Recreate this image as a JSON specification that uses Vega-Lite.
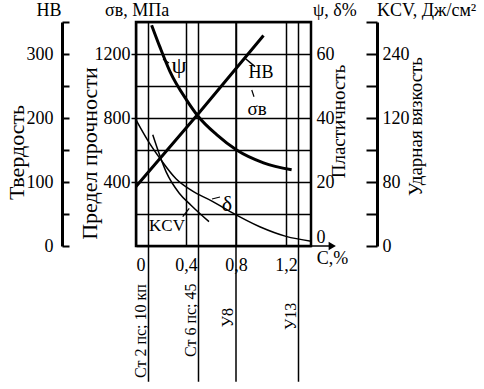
{
  "$schema": "https://vega.github.io/schema/vega-lite/v6.json",
  "width": 175,
  "height": 224,
  "autosize": {"type": "none"},
  "padding": {"left": 136, "top": 22, "right": 173, "bottom": 143},
  "config": {
    "font": "Liberation Serif",
    "view": {"stroke": "black", "strokeWidth": 2.5},
    "axis": {
      "labelFont": "Liberation Serif", "labelFontSize": 18, "labelColor": "black",
      "titleFont": "Liberation Serif", "titleFontSize": 22, "titleFontWeight": "normal", "titleColor": "black",
      "domainColor": "black", "tickColor": "black", "grid": false, "labelOverlap": false, "labelBound": false
    },
    "text": {"font": "Liberation Serif", "color": "black"}
  },
  "datasets": {
    "hb": [{"C": 0, "HB": 93}, {"C": 0.5, "HB": 207}, {"C": 1.02, "HB": 329}],
    "psi": [{"C": 0.125, "v": 69}, {"C": 0.19, "v": 62.3}, {"C": 0.272, "v": 54.5}, {"C": 0.405, "v": 45.6}, {"C": 0.5, "v": 40.4}, {"C": 0.645, "v": 34.8}, {"C": 0.805, "v": 30}, {"C": 1.02, "v": 26}, {"C": 1.245, "v": 23.8}],
    "delta": [{"C": 0, "v": 39.4}, {"C": 0.1, "v": 32.6}, {"C": 0.2, "v": 26.9}, {"C": 0.32, "v": 21}, {"C": 0.45, "v": 17.2}, {"C": 0.6, "v": 14.2}, {"C": 0.75, "v": 10.8}, {"C": 0.99, "v": 6}, {"C": 1.2, "v": 3}, {"C": 1.4, "v": 1.5}],
    "kcv": [{"C": 0.134, "v": 139}, {"C": 0.24, "v": 93}, {"C": 0.346, "v": 66}, {"C": 0.44, "v": 51}, {"C": 0.584, "v": 30.4}],
    "steel": [
      {"C": 0.1, "grade": "Ст 2 пс; 10 кп", "ly": -133},
      {"C": 0.5, "grade": "Ст 6 пс; 45", "ly": -116},
      {"C": 0.8, "grade": "У8", "ly": -112},
      {"C": 1.3, "grade": "У13", "ly": -110}
    ]
  },
  "encoding": {
    "x": {"field": "C", "type": "quantitative", "scale": {"domain": [0, 1.4], "nice": false, "zero": false},
      "axis": {"orient": "bottom", "values": [0, 0.4, 0.8, 1.2], "grid": false, "ticks": true, "tickSize": -224, "tickWidth": 1.5,
        "domain": false, "labelPadding": 234,
        "labelExpr": "replace(format(datum.value, '.1~f'), '.', ',')", "title": null}}
  },
  "layer": [
    {
      "data": {"values": [{"C": -0.248, "s": 1468, "text": "σв, МПа"}]},
      "mark": {"type": "text", "fontSize": 18, "align": "left", "baseline": "middle"},
      "encoding": {
        "y": {"field": "s", "type": "quantitative", "scale": {"domain": [0, 1400], "nice": false},
          "axis": {"orient": "left", "offset": 0, "values": [400, 800, 1200], "format": "d", "domain": false,
            "tickSize": 5, "tickWidth": 1.5, "labelPadding": 1,
            "title": "Предел прочности", "titleAngle": 270, "titleX": -47, "titleY": 131, "titleAlign": "center", "titleBaseline": "middle"}},
        "text": {"field": "text"}
      }
    },
    {
      "data": {"values": [{"C": 0.968, "s": 856, "text": "σв"}]},
      "mark": {"type": "text", "fontSize": 19, "align": "center", "baseline": "middle"},
      "encoding": {
        "y": {"field": "s", "type": "quantitative", "scale": {"domain": [0, 1400], "nice": false}, "axis": null},
        "text": {"field": "text"}
      }
    },
    {
      "data": {"values": [{"C": 0.926, "s": 975, "C2": 0.944, "s2": 933}]},
      "mark": {"type": "rule", "strokeWidth": 1.2, "color": "black"},
      "encoding": {
        "y": {"field": "s", "type": "quantitative", "scale": {"domain": [0, 1400], "nice": false}, "axis": null},
        "x2": {"field": "C2"},
        "y2": {"field": "s2"}
      }
    },
    {
      "data": {"name": "hb"},
      "mark": {"type": "line", "strokeWidth": 3, "color": "black"},
      "encoding": {
        "y": {"field": "HB", "type": "quantitative", "scale": {"domain": [0, 350], "nice": false},
          "axis": {"orient": "left", "offset": 74, "values": [0, 50, 100, 150, 200, 250, 300, 350], "domain": true, "domainWidth": 3,
            "tickSize": -7, "tickWidth": 2, "labelPadding": 16, "labelFlush": false,
            "labelExpr": "datum.value % 100 == 0 ? datum.label : ''",
            "title": "Твердость", "titleAngle": 270, "titleX": -46, "titleY": 130, "titleAlign": "center", "titleBaseline": "middle"}}
      }
    },
    {
      "data": {"name": "steel"},
      "mark": {"type": "rule", "strokeWidth": 1.5, "color": "black"},
      "encoding": {
        "y": {"datum": 350, "type": "quantitative", "scale": {"domain": [0, 350], "nice": false}, "axis": null},
        "y2": {"datum": -212}
      }
    },
    {
      "data": {"name": "steel"},
      "mark": {"type": "text", "angle": 270, "fontSize": 16, "align": "center", "baseline": "middle", "dy": -8},
      "encoding": {
        "y": {"field": "ly", "type": "quantitative", "scale": {"domain": [0, 350], "nice": false}, "axis": null},
        "text": {"field": "grade"}
      }
    },
    {
      "data": {"values": [
        {"C": -0.696, "HB": 367, "text": "НВ"},
        {"C": 1.0, "HB": 270.3, "text": "HB"},
        {"C": 1.572, "HB": -20, "text": "C,%"}
      ]},
      "mark": {"type": "text", "fontSize": 18, "align": "center", "baseline": "middle"},
      "encoding": {
        "y": {"field": "HB", "type": "quantitative", "scale": {"domain": [0, 350], "nice": false}, "axis": null},
        "text": {"field": "text"}
      }
    },
    {
      "data": {"values": [
        {"C": 0.872, "HB": 293.3, "C2": 0.952, "HB2": 280.2},
        {"C": 1.4, "HB": 0, "C2": 1.58, "HB2": 0}
      ]},
      "mark": {"type": "rule", "strokeWidth": 1.5, "color": "black"},
      "encoding": {
        "y": {"field": "HB", "type": "quantitative", "scale": {"domain": [0, 350], "nice": false}, "axis": null},
        "x2": {"field": "C2"},
        "y2": {"field": "HB2"}
      }
    },
    {
      "data": {"values": [{"C": 1.57, "HB": 0}]},
      "mark": {"type": "point", "shape": "triangle-right", "filled": true, "size": 70, "color": "black", "opacity": 1},
      "encoding": {
        "y": {"field": "HB", "type": "quantitative", "scale": {"domain": [0, 350], "nice": false}, "axis": null}
      }
    },
    {
      "data": {"name": "psi"},
      "mark": {"type": "line", "strokeWidth": 3, "color": "black", "interpolate": "monotone"},
      "encoding": {
        "y": {"field": "v", "type": "quantitative", "scale": {"domain": [0, 70], "nice": false},
          "axis": {"orient": "right", "offset": 0, "values": [0, 10, 20, 30, 40, 50, 60, 70], "domain": false,
            "ticks": true, "tickSize": -175, "tickWidth": 1.5,
            "labelPadding": 180, "labelFlush": true,
            "labelExpr": "datum.value % 20 == 0 ? datum.label : ''",
            "title": "Пластичность", "titleFontSize": 19, "titleAngle": 270, "titleX": 27, "titleY": 99, "titleAlign": "center", "titleBaseline": "middle"}}
      }
    },
    {
      "data": {"name": "delta"},
      "mark": {"type": "line", "strokeWidth": 1.5, "color": "black", "interpolate": "monotone"},
      "encoding": {
        "y": {"field": "v", "type": "quantitative", "scale": {"domain": [0, 70], "nice": false}, "axis": null}
      }
    },
    {
      "data": {"values": [{"C": 0.344, "v": 56.3, "text": "ψ"}]},
      "mark": {"type": "text", "fontSize": 24, "align": "center", "baseline": "middle"},
      "encoding": {
        "y": {"field": "v", "type": "quantitative", "scale": {"domain": [0, 70], "nice": false}, "axis": null},
        "text": {"field": "text"}
      }
    },
    {
      "data": {"values": [{"C": 0.728, "v": 13.1, "text": "δ"}]},
      "mark": {"type": "text", "fontSize": 22, "align": "center", "baseline": "middle"},
      "encoding": {
        "y": {"field": "v", "type": "quantitative", "scale": {"domain": [0, 70], "nice": false}, "axis": null},
        "text": {"field": "text"}
      }
    },
    {
      "data": {"values": [{"C": 1.416, "v": 73.4, "text": "ψ, δ%"}]},
      "mark": {"type": "text", "fontSize": 18, "align": "left", "baseline": "middle"},
      "encoding": {
        "y": {"field": "v", "type": "quantitative", "scale": {"domain": [0, 70], "nice": false}, "axis": null},
        "text": {"field": "text"}
      }
    },
    {
      "data": {"values": [
        {"C": 0.216, "v": 58.4, "C2": 0.264, "v2": 57.2},
        {"C": 0.608, "v": 14.7, "C2": 0.672, "v2": 15.3}
      ]},
      "mark": {"type": "rule", "strokeWidth": 1.2, "color": "black"},
      "encoding": {
        "y": {"field": "v", "type": "quantitative", "scale": {"domain": [0, 70], "nice": false}, "axis": null},
        "x2": {"field": "C2"},
        "y2": {"field": "v2"}
      }
    },
    {
      "data": {"name": "kcv"},
      "mark": {"type": "line", "strokeWidth": 1.5, "color": "black", "interpolate": "monotone"},
      "encoding": {
        "y": {"field": "v", "type": "quantitative", "scale": {"domain": [0, 280], "nice": false},
          "axis": {"orient": "right", "offset": 66, "values": [0, 40, 80, 120, 160, 200, 240, 280], "domain": true, "domainWidth": 3,
            "tickSize": -11, "tickWidth": 2, "labelPadding": 16, "labelFlush": false,
            "labelExpr": "datum.value == 160 ? '120' : (datum.value % 80 == 0 ? datum.label : '')",
            "title": "Ударная вязкость", "titleFontSize": 19, "titleAngle": 270, "titleX": 38, "titleY": 104, "titleAlign": "center", "titleBaseline": "middle"}}
      }
    },
    {
      "data": {"values": [{"C": 0.248, "v": 25, "text": "KCV"}]},
      "mark": {"type": "text", "fontSize": 17, "align": "center", "baseline": "middle"},
      "encoding": {
        "y": {"field": "v", "type": "quantitative", "scale": {"domain": [0, 280], "nice": false}, "axis": null},
        "text": {"field": "text"}
      }
    },
    {
      "data": {"values": [{"C": 1.928, "v": 293.6, "text": "KCV, Дж/см²"}]},
      "mark": {"type": "text", "fontSize": 18, "align": "left", "baseline": "middle"},
      "encoding": {
        "y": {"field": "v", "type": "quantitative", "scale": {"domain": [0, 280], "nice": false}, "axis": null},
        "text": {"field": "text"}
      }
    },
    {
      "data": {"values": [{"C": 0.374, "v": 36.6, "C2": 0.426, "v2": 47.1}]},
      "mark": {"type": "rule", "strokeWidth": 1.2, "color": "black"},
      "encoding": {
        "y": {"field": "v", "type": "quantitative", "scale": {"domain": [0, 280], "nice": false}, "axis": null},
        "x2": {"field": "C2"},
        "y2": {"field": "v2"}
      }
    }
  ],
  "resolve": {"scale": {"y": "independent"}, "axis": {"y": "independent"}}
}
